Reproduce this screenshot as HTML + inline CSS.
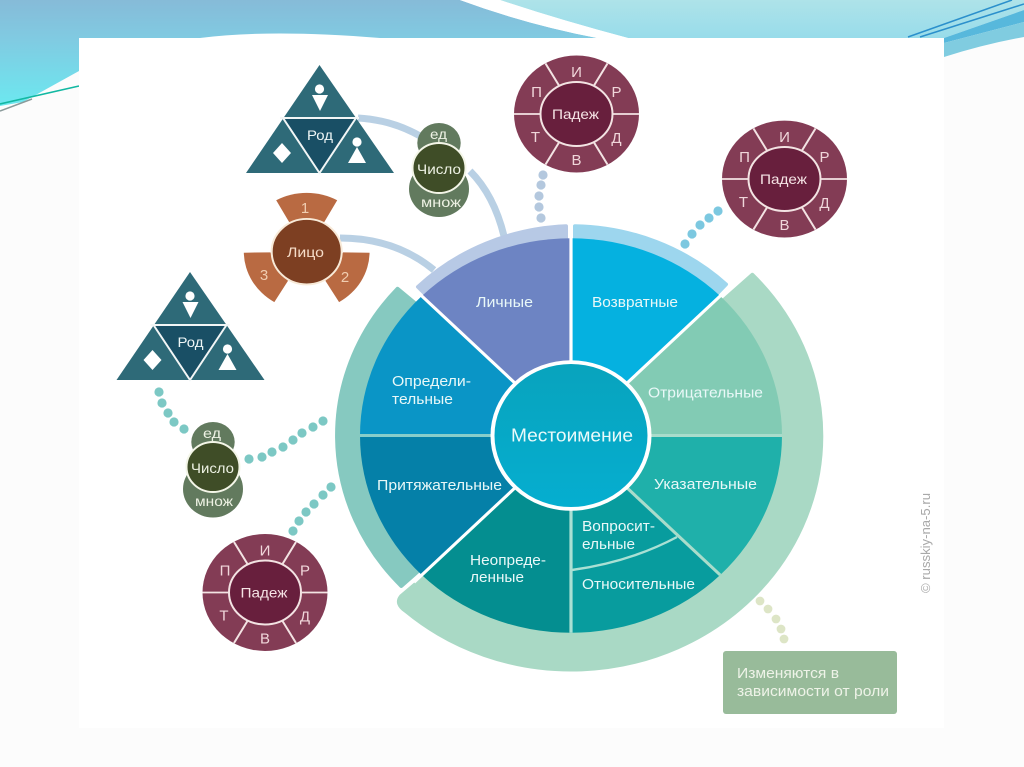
<!DOCTYPE html>
<html lang="ru">
<head>
<meta charset="utf-8">
<title>Местоимение</title>
<style>
html,body{margin:0;padding:0;width:1024px;height:767px;overflow:hidden;background:#fdfdfd}
svg{display:block}
text{font-family:"Liberation Sans","DejaVu Sans",sans-serif}
.w{fill:#e9f8f8;font-size:14.5px}
.p{fill:#f6e4e6;font-size:14px}
.pl{fill:#f0d6da;font-size:15px;text-anchor:middle}
.g{fill:#eef2e4;font-size:14px}
.r{fill:#eef6f6;font-size:14px}
.b{fill:#f5dcc8;font-size:14px}
.bl{fill:#f0cdb0;font-size:15px;text-anchor:middle}
</style>
</head>
<body>
<svg width="1024" height="767" viewBox="0 0 1024 767" xmlns="http://www.w3.org/2000/svg">
<defs>
<linearGradient id="bg1" x1="0" y1="0" x2="0" y2="1"><stop offset="0" stop-color="#86bbd8"/><stop offset=".38" stop-color="#80cbe2"/><stop offset="1" stop-color="#6ce8f0"/></linearGradient>
<linearGradient id="bg2" x1="0" y1="0" x2="0" y2="1"><stop offset="0" stop-color="#aee3e9"/><stop offset="1" stop-color="#98dcea"/></linearGradient>
<linearGradient id="hub" x1="0" y1="0" x2="0" y2="1"><stop offset="0" stop-color="#08a3bd"/><stop offset="1" stop-color="#05aed0"/></linearGradient>
</defs>

<rect width="1024" height="767" fill="#fcfcfc"/>
<!-- top decoration -->
<path d="M0 0H460Q525 24 597 38H79V71L23 102L0 106Z" fill="url(#bg1)"/>
<path d="M500 0H1024V10L944 38H628Q560 20 500 0Z" fill="url(#bg2)"/>
<path d="M460 0H500Q560 20 628 38H597Q525 24 460 0Z" fill="#fff"/>
<path d="M944 38L1024 10V22L944 43Z" fill="#57b8dc"/>
<path d="M944 43L1024 22V37Q985 44 944 57Z" fill="#80cce0"/>
<path d="M908 37L1012 0" stroke="#2b90cc" stroke-width="1.5" fill="none"/>
<path d="M920 37L1024 4" stroke="#2b90cc" stroke-width="1.5" fill="none"/>
<path d="M0 104L79 86" stroke="#12b8a2" stroke-width="1.6" fill="none"/>
<path d="M0 111L32 99" stroke="#8a9a9a" stroke-width="1.5" fill="none"/>
<!-- white panel -->
<rect x="79" y="38" width="865" height="690" fill="#fff"/>
<path d="M200 38Q270 29 380 38Z" fill="#fff"/>

<!-- connectors -->
<g fill="none" stroke="#b9d0e4" stroke-width="7">
<path d="M358 118Q392 120 420 136"/>
<path d="M470 171Q494 195 504 236"/>
<path d="M340 238Q395 238 434 270"/>
</g>

<!-- main wheel -->
<g transform="translate(571 435.5) scale(1 .935)">
<path d="M145,-137.6L181.3,-172A250 250 0 0 1 -165,188Q-176,180 -170,172L-139,143.9A200 200 0 0 0 145,-137.6Z" fill="#a9d9c5" stroke="#a9d9c5" stroke-width="4" stroke-linejoin="round"/>
<path d="M-145,137.7L-169.7,161A234 234 0 0 1 -173.5,-157L-148,-134.5A200 200 0 0 0 -145,137.7Z" fill="#86c9c0" stroke="#86c9c0" stroke-width="4" stroke-linejoin="round"/>
<path d="M-139,-144L-153,-159A224 224 0 0 1 -5,-224L-5,-200A200 200 0 0 0 -139,-144Z" fill="#b7c9e5" stroke="#b7c9e5" stroke-width="4" stroke-linejoin="round"/>
<path d="M4,-200L4,-224A224 224 0 0 1 155,-161.7L139,-144A200 200 0 0 0 4,-200Z" fill="#9dd6ee" stroke="#9dd6ee" stroke-width="4" stroke-linejoin="round"/>
<path d="M0,0L-149.2,-149.2A211 211 0 0 1 0,-211Z" fill="#6d84c3"/>
<path d="M0,0L0,-211A211 211 0 0 1 149.2,-149.2Z" fill="#05b1e0"/>
<path d="M0,0L149.2,-149.2A211 211 0 0 1 211,0Z" fill="#82cbb4"/>
<path d="M0,0L211,0A211 211 0 0 1 149.2,149.2Z" fill="#1fb0aa"/>
<path d="M0,0L149.2,149.2A211 211 0 0 1 0,211Z" fill="#089c9e"/>
<path d="M0,0L0,211A211 211 0 0 1 -149.2,149.2Z" fill="#048e90"/>
<path d="M0,0L-149.2,149.2A211 211 0 0 1 -211,0Z" fill="#0580a8"/>
<path d="M0,0L-211,0A211 211 0 0 1 -149.2,-149.2Z" fill="#0a95c6"/>
<g fill="none" stroke-width="3.2">
<path d="M0,0V-214" stroke="#fff"/>
<path d="M0,0L157,-157" stroke="#fff"/>
<path d="M0,0L-157,-157" stroke="#fff"/>
<path d="M0,0L-157,157" stroke="#fff"/>
<path d="M0,0H-211" stroke="#88cdca"/>
<path d="M0,0H211" stroke="#a9dccb"/>
<path d="M0,0V211" stroke="#a9e0d4"/>
<path d="M0,0L149.2,149.2" stroke="#a9dccb"/>
</g>
<circle r="78.5" fill="url(#hub)" stroke="#fff" stroke-width="4"/>
</g>
<path d="M572 570Q630 562 677 537" fill="none" stroke="#a9e0d4" stroke-width="2.4"/>

<!-- wheel labels -->
<text class="w" x="476" y="307" textLength="57" lengthAdjust="spacingAndGlyphs">Личные</text>
<text class="w" x="592" y="307" textLength="86" lengthAdjust="spacingAndGlyphs">Возвратные</text>
<text class="w" x="648" y="397.5" textLength="115" lengthAdjust="spacingAndGlyphs">Отрицательные</text>
<text class="w" x="654" y="489" textLength="103" lengthAdjust="spacingAndGlyphs">Указательные</text>
<text class="w" x="582" y="531" textLength="73" lengthAdjust="spacingAndGlyphs">Вопросит-</text>
<text class="w" x="582" y="549" textLength="53" lengthAdjust="spacingAndGlyphs">ельные</text>
<text class="w" x="582" y="589" textLength="113" lengthAdjust="spacingAndGlyphs">Относительные</text>
<text class="w" x="470" y="565" textLength="76" lengthAdjust="spacingAndGlyphs">Неопреде-</text>
<text class="w" x="470" y="582" textLength="54" lengthAdjust="spacingAndGlyphs">ленные</text>
<text class="w" x="377" y="490" textLength="125" lengthAdjust="spacingAndGlyphs">Притяжательные</text>
<text class="w" x="392" y="386" textLength="79" lengthAdjust="spacingAndGlyphs">Определи-</text>
<text class="w" x="392" y="404" textLength="61" lengthAdjust="spacingAndGlyphs">тельные</text>
<text x="511" y="441.5" fill="#eafafa" font-size="18" textLength="122" lengthAdjust="spacingAndGlyphs">Местоимение</text>

<!-- dots -->
<g fill="#b4c8de"><circle cx="543" cy="175" r="4.6"/><circle cx="541" cy="185" r="4.6"/><circle cx="539" cy="196" r="4.6"/><circle cx="539" cy="207" r="4.6"/><circle cx="541" cy="218" r="4.6"/></g>
<g fill="#7cc8e0"><circle cx="685" cy="244" r="4.6"/><circle cx="692" cy="234" r="4.6"/><circle cx="700" cy="225" r="4.6"/><circle cx="709" cy="218" r="4.6"/><circle cx="718" cy="211" r="4.6"/></g>
<g fill="#7cc8c4"><circle cx="159" cy="392" r="4.6"/><circle cx="162" cy="403" r="4.6"/><circle cx="168" cy="413" r="4.6"/><circle cx="174" cy="422" r="4.6"/><circle cx="184" cy="429" r="4.6"/>
<circle cx="249" cy="459" r="4.6"/><circle cx="262" cy="457" r="4.6"/><circle cx="272" cy="452" r="4.6"/><circle cx="283" cy="447" r="4.6"/><circle cx="293" cy="440" r="4.6"/><circle cx="302" cy="433" r="4.6"/><circle cx="313" cy="427" r="4.6"/><circle cx="323" cy="421" r="4.6"/>
<circle cx="293" cy="531" r="4.6"/><circle cx="299" cy="521" r="4.6"/><circle cx="306" cy="512" r="4.6"/><circle cx="314" cy="504" r="4.6"/><circle cx="323" cy="495" r="4.6"/><circle cx="331" cy="487" r="4.6"/></g>
<g fill="#dde5c6"><circle cx="760" cy="601" r="4.4"/><circle cx="768" cy="609" r="4.4"/><circle cx="776" cy="619" r="4.4"/><circle cx="781" cy="629" r="4.4"/><circle cx="784" cy="639" r="4.4"/></g>

<!-- Падеж 1 -->
<g transform="translate(576.5 114)">
<g transform="scale(1 .935)"><circle r="62.5" fill="#833c55"/>
<path d="M-62.5,0H62.5M-31,-54L31,54M31,-54L-31,54" stroke="#f3e3e3" stroke-width="2"/></g>
<ellipse rx="36" ry="32" fill="#681f3d" stroke="#f3e3e3" stroke-width="2"/>
<text class="p" x="-24.5" y="5" textLength="47" lengthAdjust="spacingAndGlyphs">Падеж</text>
<text class="pl" x="0" y="-37">И</text><text class="pl" x="40" y="-17">Р</text><text class="pl" x="40" y="29">Д</text><text class="pl" x="0" y="51">В</text><text class="pl" x="-41" y="28">Т</text><text class="pl" x="-40" y="-17">П</text>
</g>
<!-- Падеж 2 -->
<g transform="translate(784.5 179)">
<g transform="scale(1 .935)"><circle r="62.5" fill="#833c55"/>
<path d="M-62.5,0H62.5M-31,-54L31,54M31,-54L-31,54" stroke="#f3e3e3" stroke-width="2"/></g>
<ellipse rx="36" ry="32" fill="#681f3d" stroke="#f3e3e3" stroke-width="2"/>
<text class="p" x="-24.5" y="5" textLength="47" lengthAdjust="spacingAndGlyphs">Падеж</text>
<text class="pl" x="0" y="-37">И</text><text class="pl" x="40" y="-17">Р</text><text class="pl" x="40" y="29">Д</text><text class="pl" x="0" y="51">В</text><text class="pl" x="-41" y="28">Т</text><text class="pl" x="-40" y="-17">П</text>
</g>
<!-- Падеж 3 -->
<g transform="translate(265 592.5)">
<g transform="scale(1 .935)"><circle r="62.5" fill="#833c55"/>
<path d="M-62.5,0H62.5M-31,-54L31,54M31,-54L-31,54" stroke="#f3e3e3" stroke-width="2"/></g>
<ellipse rx="36" ry="32" fill="#681f3d" stroke="#f3e3e3" stroke-width="2"/>
<text class="p" x="-24.5" y="5" textLength="47" lengthAdjust="spacingAndGlyphs">Падеж</text>
<text class="pl" x="0" y="-37">И</text><text class="pl" x="40" y="-17">Р</text><text class="pl" x="40" y="29">Д</text><text class="pl" x="0" y="51">В</text><text class="pl" x="-41" y="28">Т</text><text class="pl" x="-40" y="-17">П</text>
</g>

<!-- Род 1 -->
<g>
<path d="M319.5 65L394 173H246Z" fill="#2e6a78"/>
<path d="M283 118H356L319.5 172Z" fill="#194f65"/>
<path d="M280 118H359M283 118L319.5 173L356 118" fill="none" stroke="#f2f6f6" stroke-width="2"/>
<circle cx="319.5" cy="89" r="4.6" fill="#fff"/><path d="M312 95H328L320 111Z" fill="#fff"/>
<circle cx="357" cy="142" r="4.6" fill="#fff"/><path d="M357 147L366 163H348Z" fill="#fff"/>
<path d="M282 143L291 153L282 163L273 153Z" fill="#fff"/>
<text class="r" x="307" y="140" textLength="26" lengthAdjust="spacingAndGlyphs">Род</text>
</g>
<!-- Род 2 -->
<g transform="translate(-129.5 207)">
<path d="M319.5 65L394 173H246Z" fill="#2e6a78"/>
<path d="M283 118H356L319.5 172Z" fill="#194f65"/>
<path d="M280 118H359M283 118L319.5 173L356 118" fill="none" stroke="#f2f6f6" stroke-width="2"/>
<circle cx="319.5" cy="89" r="4.6" fill="#fff"/><path d="M312 95H328L320 111Z" fill="#fff"/>
<circle cx="357" cy="142" r="4.6" fill="#fff"/><path d="M357 147L366 163H348Z" fill="#fff"/>
<path d="M282 143L291 153L282 163L273 153Z" fill="#fff"/>
<text class="r" x="307" y="140" textLength="26" lengthAdjust="spacingAndGlyphs">Род</text>
</g>

<!-- Число 1 -->
<g>
<ellipse cx="439" cy="143" rx="21.7" ry="20" fill="#627a5e"/>
<ellipse cx="439" cy="189" rx="30" ry="28" fill="#627a5e"/>
<ellipse cx="439" cy="168" rx="26.5" ry="25" fill="#3f4d27" stroke="#f4f6e8" stroke-width="2"/>
<text class="g" x="430" y="139" textLength="17" lengthAdjust="spacingAndGlyphs">ед</text>
<text class="g" x="417" y="174" textLength="44" lengthAdjust="spacingAndGlyphs">Число</text>
<text class="g" x="421" y="207" textLength="40" lengthAdjust="spacingAndGlyphs">множ</text>
</g>
<!-- Число 2 -->
<g transform="translate(-226 299)">
<ellipse cx="439" cy="143" rx="21.7" ry="20" fill="#627a5e"/>
<ellipse cx="439" cy="190" rx="30" ry="28.5" fill="#627a5e"/>
<ellipse cx="439" cy="168" rx="26.5" ry="25" fill="#3f4d27" stroke="#f4f6e8" stroke-width="2"/>
<text class="g" x="429" y="139" textLength="18" lengthAdjust="spacingAndGlyphs">ед</text>
<text class="g" x="417" y="174" textLength="43" lengthAdjust="spacingAndGlyphs">Число</text>
<text class="g" x="421" y="207" textLength="38" lengthAdjust="spacingAndGlyphs">множ</text>
</g>

<!-- Лицо -->
<g transform="translate(306.7 251.7) scale(1 .935)">
<g fill="#b96a42">
<path d="M-17.6,-31.8L-30.5,-55A63 63 0 0 1 30.5,-55L17.6,-31.8Z"/>
<path d="M-17.6,-31.8L-30.5,-55A63 63 0 0 1 30.5,-55L17.6,-31.8Z" transform="rotate(120)"/>
<path d="M-17.6,-31.8L-30.5,-55A63 63 0 0 1 30.5,-55L17.6,-31.8Z" transform="rotate(240)"/>
</g>
<circle r="35" fill="#7d3f22" stroke="#f8ead8" stroke-width="2"/>
</g>
<text class="b" x="287" y="257" textLength="37" lengthAdjust="spacingAndGlyphs">Лицо</text>
<text class="bl" x="305" y="213">1</text>
<text class="bl" x="345" y="282">2</text>
<text class="bl" x="264" y="280">3</text>

<!-- note box -->
<rect x="723" y="651" width="174" height="63" rx="3" fill="#98bb9a"/>
<text x="737" y="678" fill="#eef3e8" font-size="14.5" textLength="102" lengthAdjust="spacingAndGlyphs">Изменяются в</text>
<text x="737" y="696" fill="#eef3e8" font-size="14.5" textLength="152" lengthAdjust="spacingAndGlyphs">зависимости от роли</text>

<!-- watermark -->
<text transform="translate(930 593) rotate(-90)" fill="#a9a9a9" font-size="12.5" textLength="100" lengthAdjust="spacingAndGlyphs">© russkiy-na-5.ru</text>
</svg>
</body>
</html>
